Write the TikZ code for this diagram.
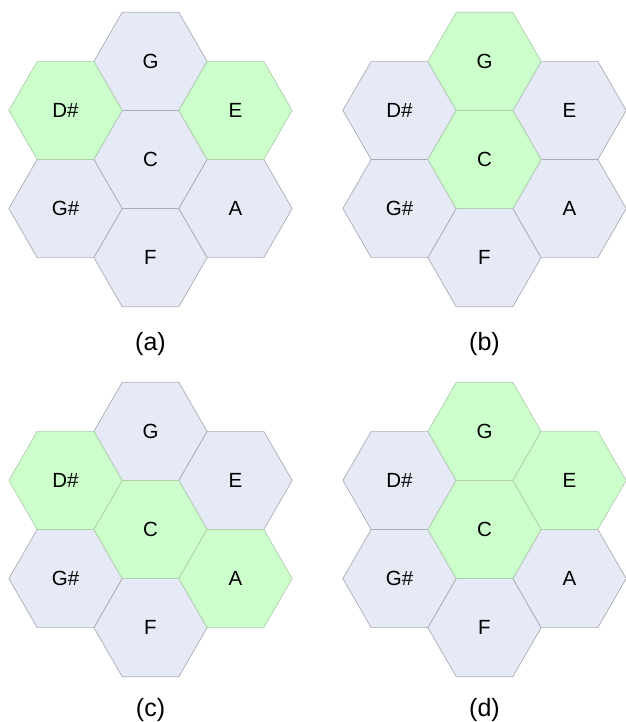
\documentclass[tikz,border=0pt]{standalone}
\usepackage{fontspec}
\setmainfont{Liberation Sans}
\usetikzlibrary{shapes.geometric}
\definecolor{hexblue}{RGB}{230,234,246}
\definecolor{hexgreen}{RGB}{204,255,204}
\definecolor{hexline}{RGB}{172,172,180}
\definecolor{hexgline}{RGB}{175,205,175}
\tikzset{
  hexb/.style={regular polygon, regular polygon sides=6, minimum size=113.3pt,
    inner sep=0pt, outer sep=0pt, draw=hexline, line width=0.7pt, fill=hexblue,
    font=\fontsize{20.5}{24}\selectfont},
  hexg/.style={hexb, fill=hexgreen, draw=hexgline},
  caption/.style={font=\fontsize{25}{30}\selectfont, inner sep=0pt}
}
\begin{document}
\begin{tikzpicture}[x=1pt,y=-1pt]
\useasboundingbox (0,0) rectangle (625,722);
% (a)
\begin{scope}[shift={(150.5,159.5)}]
  \node[hexb] (aC) at (0,0) {C};
  \node[hexb] (aG) at (0,-98.1) {G};
  \node[hexb] (aF) at (0,98.1) {F};
  \node[hexb] (aGs) at (-85,49.05) {G\#};
  \node[hexb] (aA) at (85,49.05) {A};
  \node[hexg] (aD) at (-85,-49.05) {D\#};
  \node[hexg] (aE) at (85,-49.05) {E};
  \node[caption] (la) at (0,184.8) {(a)};
\end{scope}
% (b)
\begin{scope}[shift={(484.5,159.5)}]
  \node[hexb] (bF) at (0,98.1) {F};
  \node[hexb] (bD) at (-85,-49.05) {D\#};
  \node[hexb] (bE) at (85,-49.05) {E};
  \node[hexb] (bGs) at (-85,49.05) {G\#};
  \node[hexb] (bA) at (85,49.05) {A};
  \node[hexg] (bC) at (0,0) {C};
  \node[hexg] (bG) at (0,-98.1) {G};
  \node[caption] (lb) at (0,184.8) {(b)};
\end{scope}
% (c)
\begin{scope}[shift={(150.5,529.5)}]
  \node[hexb] (cG) at (0,-98.1) {G};
  \node[hexb] (cF) at (0,98.1) {F};
  \node[hexb] (cE) at (85,-49.05) {E};
  \node[hexb] (cGs) at (-85,49.05) {G\#};
  \node[hexg] (cC) at (0,0) {C};
  \node[hexg] (cD) at (-85,-49.05) {D\#};
  \node[hexg] (cA) at (85,49.05) {A};
  \node[caption] (lc) at (0,180.5) {(c)};
\end{scope}
% (d)
\begin{scope}[shift={(484.5,529.5)}]
  \node[hexb] (dF) at (0,98.1) {F};
  \node[hexb] (dD) at (-85,-49.05) {D\#};
  \node[hexb] (dGs) at (-85,49.05) {G\#};
  \node[hexb] (dA) at (85,49.05) {A};
  \node[hexg] (dC) at (0,0) {C};
  \node[hexg] (dG) at (0,-98.1) {G};
  \node[hexg] (dE) at (85,-49.05) {E};
  \node[caption] (ld) at (0,180.5) {(d)};
\end{scope}
\end{tikzpicture}
\end{document}
